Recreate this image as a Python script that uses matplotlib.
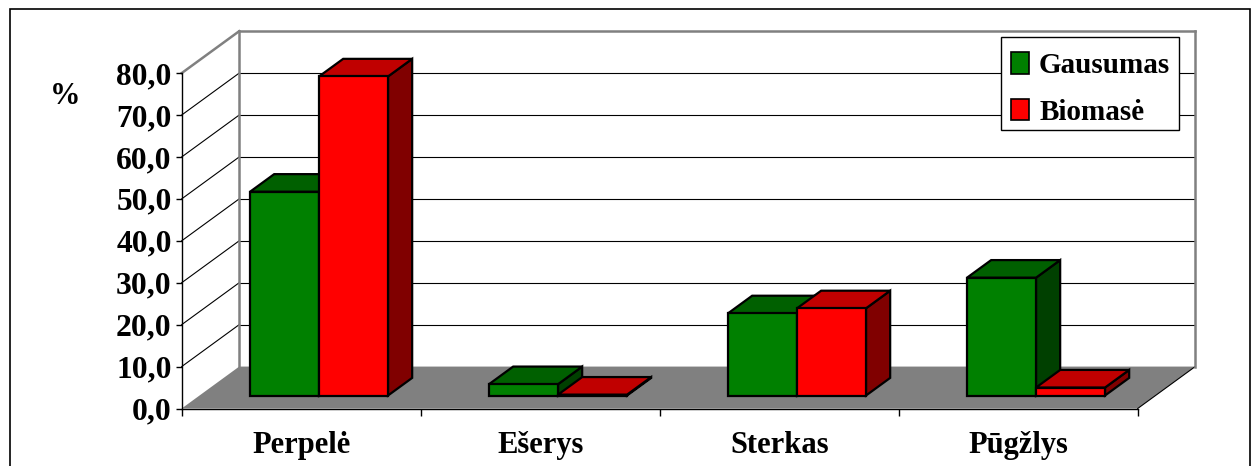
import matplotlib
matplotlib.use('Agg')
import matplotlib.pyplot as plt
from matplotlib.patches import Polygon, Patch, Rectangle

plt.rcParams['font.family'] = ['Liberation Serif', 'DejaVu Serif']
plt.rcParams['font.weight'] = 'bold'

categories = ['Perpelė', 'Ešerys', 'Sterkas', 'Pūgžlys']
gausumas = [48.6, 2.7, 19.6, 28.1]
biomase = [76.1, 0.2, 20.8, 1.9]
yticks = [0, 10, 20, 30, 40, 50, 60, 70, 80]
ylabels = ['0,0', '10,0', '20,0', '30,0', '40,0', '50,0', '60,0', '70,0', '80,0']

W, H = 1254, 466
fig = plt.figure(figsize=(W / 100, H / 100), dpi=100)
ax = fig.add_axes([181.7 / W, (H - 408.5) / H, 956 / W, 335.4 / H])
ax.set_xlim(0, 4)
ax.set_ylim(0, 80)

# oblique projection: depth 1 = back wall
DX = 57.5 / 239
DY = 10
GRID = '#808080'


def pr(x, v, d):
    return (x + d * DX, v + d * DY)


def line(p, q, color='black', lw=0.8, z=1):
    ax.plot([p[0], q[0]], [p[1], q[1]], color=color, lw=lw, zorder=z,
            clip_on=False, solid_capstyle='projecting')


# floor
ax.add_patch(Polygon([pr(0, 0, 0), pr(4, 0, 0), pr(4, 0, 1), pr(0, 0, 1)],
                     facecolor=GRID, edgecolor='none', zorder=1, clip_on=False))
line(pr(4, 0, 0), pr(4, 0, 1))

# walls
for v in yticks[1:-1]:
    line(pr(0, v, 0), pr(0, v, 1))
    line(pr(0, v, 1), pr(4, v, 1))
line(pr(0, 80, 0), pr(0, 80, 1), color=GRID, lw=1.8)
line(pr(0, 80, 1), pr(4, 80, 1), color=GRID, lw=1.8)
line(pr(0, 0, 1), pr(0, 80, 1), color=GRID, lw=1.8)
line(pr(4, 0, 1), pr(4, 80, 1), color=GRID, lw=1.8)

# bars
gap = 50.5 / 239
bw = 69 / 239
d0, d1 = 0.31, 0.73


def bar3d(x, v, front, top, side):
    x2 = x + bw
    kw = dict(edgecolor='black', lw=1.6, zorder=3, clip_on=False, joinstyle='miter')
    ax.add_patch(Polygon([pr(x2, 0, d0), pr(x2, 0, d1), pr(x2, v, d1), pr(x2, v, d0)],
                         facecolor=side, **kw))
    ax.add_patch(Polygon([pr(x, v, d0), pr(x2, v, d0), pr(x2, v, d1), pr(x, v, d1)],
                         facecolor=top, **kw))
    ax.add_patch(Polygon([pr(x, 0, d0), pr(x2, 0, d0), pr(x2, v, d0), pr(x, v, d0)],
                         facecolor=front, **kw))


for i in range(len(categories)):
    bar3d(i + gap, gausumas[i], '#008000', '#006000', '#004000')
    bar3d(i + gap + bw, biomase[i], '#ff0000', '#c00000', '#800000')

# axes
for s in ['top', 'right']:
    ax.spines[s].set_visible(False)
for s in ['left', 'bottom']:
    ax.spines[s].set_linewidth(1.0)
    ax.spines[s].set_zorder(2)
ax.patch.set_visible(False)
ax.set_yticks(yticks)
ax.set_yticklabels(ylabels, fontsize=22.7)
ax.tick_params(axis='y', length=4, width=1, pad=3.2)
ax.set_xticks([0, 1, 2, 3, 4], minor=True)
ax.set_xticks([0.5, 1.5, 2.5, 3.5])
ax.set_xticklabels(categories, fontsize=22)
ax.tick_params(axis='x', which='major', length=0, pad=16)
ax.tick_params(axis='x', which='minor', length=5, width=1)

fig.text(65 / W, 1 - 97 / H, '%', fontsize=22, ha='center', va='center')

# legend box drawn by hand so it keeps the reference size
fig.add_artist(Rectangle((1000.5 / W, 1 - 130 / H), 178 / W, 93 / H, transform=fig.transFigure,
                         facecolor='white', edgecolor='black', lw=1.0, zorder=4))
handles = [Patch(facecolor='#008000', edgecolor='black', lw=1.2, label='Gausumas'),
           Patch(facecolor='#ff0000', edgecolor='black', lw=1.2, label='Biomasė')]
leg = fig.legend(handles=handles, loc='upper left',
                 bbox_to_anchor=(1000 / W, 1 - 41.5 / H), bbox_transform=fig.transFigure,
                 fontsize=21, frameon=False, borderaxespad=0, borderpad=0.36,
                 handlelength=0.65, handleheight=0.75, handletextpad=0.33,
                 labelspacing=0.68)
leg.set_zorder(5)

# outer frame, runs off the bottom edge
fig.add_artist(Rectangle((10 / W, -0.05), 1240 / W, 1.05 - 9 / H, transform=fig.transFigure,
                         fill=False, edgecolor='black', lw=1.2))

fig.savefig('out.png', dpi=100)
